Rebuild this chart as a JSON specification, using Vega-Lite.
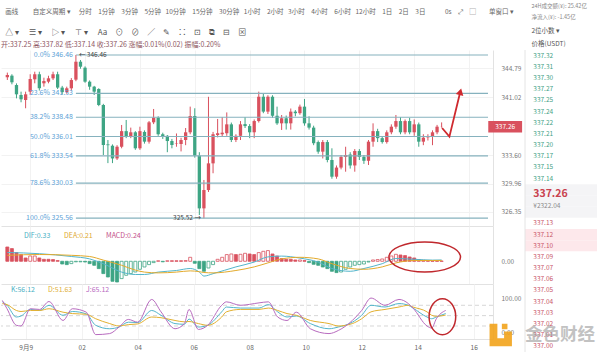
{
"$schema": "https://vega.github.io/schema/vega-lite/v6.json",
"padding": {"top": 3, "left": 0, "right": 0, "bottom": 0},
"background": "#ffffff",
"config": {
  "font": "Noto Sans CJK SC",
  "view": {"stroke": null},
  "axis": {"labelFont": "Noto Sans CJK SC", "labelFontSize": 6.5, "labelColor": "#7a7a7a", "ticks": false, "domainColor": "#e2e2e2", "gridColor": "#f2f2f2"},
  "title": {"font": "Noto Sans CJK SC", "fontWeight": "normal", "anchor": "start"},
  "legend": {"labelFont": "Noto Sans CJK SC"}
},
"datasets": {
  "candles": [
{"t":"2024-09-08T23:10","o":343.6,"h":344.2,"l":343.26,"c":343.9,"m":3.58,"k":"rs"},
{"t":"2024-09-08T23:20","o":343.81,"h":343.99,"l":342.7,"c":342.96,"m":3.18,"k":"rs"},
{"t":"2024-09-08T23:30","o":342.61,"h":342.82,"l":340.9,"c":341.42,"m":2.18,"k":"rs"},
{"t":"2024-09-08T23:40","o":341.33,"h":341.76,"l":340.4,"c":340.78,"m":1.68,"k":"rs"},
{"t":"2024-09-08T23:50","o":340.69,"h":341.76,"l":339.63,"c":341.42,"m":0.83,"k":"rs"},
{"t":"2024-09-09T00:00","o":341.76,"h":343.99,"l":341.33,"c":343.38,"m":1.33,"k":"rh"},
{"t":"2024-09-09T00:10","o":343.34,"h":344.32,"l":342.83,"c":343.99,"m":1.33,"k":"rh"},
{"t":"2024-09-09T00:20","o":343.99,"h":344.32,"l":341.9,"c":342.2,"m":0.83,"k":"rs"},
{"t":"2024-09-09T00:30","o":342.83,"h":343.55,"l":342.4,"c":343.12,"m":0.5,"k":"rs"},
{"t":"2024-09-09T00:40","o":343.04,"h":343.8,"l":342.83,"c":343.47,"m":0.5,"k":"rs"},
{"t":"2024-09-09T00:50","o":343.47,"h":344.32,"l":343.25,"c":343.99,"m":0.43,"k":"rs"},
{"t":"2024-09-09T01:00","o":343.99,"h":344.32,"l":342.1,"c":342.28,"m":0.18,"k":"rs"},
{"t":"2024-09-09T01:10","o":342.28,"h":342.5,"l":341.4,"c":341.7,"m":-0.68,"k":"gs"},
{"t":"2024-09-09T01:20","o":341.7,"h":342.4,"l":341.5,"c":342.19,"m":-0.83,"k":"gs"},
{"t":"2024-09-09T01:30","o":342.19,"h":343.5,"l":341.9,"c":343.25,"m":-0.58,"k":"gh"},
{"t":"2024-09-09T01:40","o":343.3,"h":346.46,"l":343.1,"c":345.6,"m":-0.13,"k":"gh"},
{"t":"2024-09-09T01:50","o":345.6,"h":345.82,"l":344.7,"c":344.96,"m":-0.13,"k":"gh"},
{"t":"2024-09-09T02:00","o":344.83,"h":345.0,"l":342.9,"c":343.04,"m":-0.18,"k":"gs"},
{"t":"2024-09-09T02:10","o":343.04,"h":343.2,"l":342.0,"c":342.4,"m":-0.58,"k":"gs"},
{"t":"2024-09-09T02:20","o":342.4,"h":342.5,"l":341.33,"c":341.76,"m":-1.0,"k":"gs"},
{"t":"2024-09-09T02:30","o":342.1,"h":342.2,"l":339.9,"c":340.05,"m":-1.83,"k":"gs"},
{"t":"2024-09-09T02:40","o":340.05,"h":340.2,"l":333.64,"c":334.92,"m":-3.08,"k":"gs"},
{"t":"2024-09-09T02:50","o":335.0,"h":335.56,"l":332.6,"c":334.9,"m":-3.93,"k":"gs"},
{"t":"2024-09-09T03:00","o":334.83,"h":335.0,"l":332.6,"c":333.2,"m":-5.0,"k":"gs"},
{"t":"2024-09-09T03:10","o":333.2,"h":334.9,"l":333.0,"c":334.7,"m":-5.18,"k":"gs"},
{"t":"2024-09-09T03:20","o":334.7,"h":337.49,"l":334.5,"c":336.7,"m":-4.33,"k":"gh"},
{"t":"2024-09-09T03:30","o":336.7,"h":338.13,"l":335.8,"c":335.98,"m":-3.5,"k":"gh"},
{"t":"2024-09-09T03:40","o":335.98,"h":337.15,"l":335.8,"c":336.55,"m":-3.08,"k":"gh"},
{"t":"2024-09-09T03:50","o":336.55,"h":336.7,"l":334.3,"c":334.5,"m":-2.68,"k":"gh"},
{"t":"2024-09-09T04:00","o":334.5,"h":337.27,"l":334.3,"c":336.7,"m":-2.0,"k":"gh"},
{"t":"2024-09-09T04:10","o":336.6,"h":336.8,"l":335.1,"c":335.35,"m":-1.43,"k":"gh"},
{"t":"2024-09-09T04:20","o":335.35,"h":338.0,"l":335.1,"c":337.83,"m":-0.83,"k":"gh"},
{"t":"2024-09-09T04:30","o":337.83,"h":339.54,"l":337.6,"c":338.43,"m":-0.33,"k":"gh"},
{"t":"2024-09-09T04:40","o":338.43,"h":338.6,"l":336.1,"c":336.3,"m":0.13,"k":"rh"},
{"t":"2024-09-09T04:50","o":336.3,"h":336.5,"l":335.7,"c":335.98,"m":-0.13,"k":"gs"},
{"t":"2024-09-09T05:00","o":336.1,"h":336.2,"l":334.0,"c":335.43,"m":0.13,"k":"rh"},
{"t":"2024-09-09T05:10","o":335.43,"h":335.7,"l":334.5,"c":334.92,"m":0.13,"k":"rs"},
{"t":"2024-09-09T05:20","o":335.1,"h":336.4,"l":334.7,"c":335.15,"m":0.13,"k":"rs"},
{"t":"2024-09-09T05:30","o":335.05,"h":335.85,"l":334.1,"c":335.56,"m":0.13,"k":"rs"},
{"t":"2024-09-09T05:40","o":335.56,"h":337.1,"l":334.9,"c":336.55,"m":0.18,"k":"rh"},
{"t":"2024-09-09T05:50","o":336.55,"h":339.84,"l":336.3,"c":338.64,"m":1.0,"k":"rh"},
{"t":"2024-09-09T06:00","o":338.64,"h":339.63,"l":333.3,"c":333.55,"m":-0.5,"k":"gs"},
{"t":"2024-09-09T06:10","o":333.55,"h":334.0,"l":325.95,"c":326.8,"m":-1.83,"k":"gs"},
{"t":"2024-09-09T06:20","o":326.8,"h":330.44,"l":325.52,"c":329.15,"m":-2.5,"k":"gs"},
{"t":"2024-09-09T06:30","o":329.15,"h":341.1,"l":328.9,"c":332.57,"m":-1.68,"k":"gh"},
{"t":"2024-09-09T06:40","o":332.57,"h":336.6,"l":331.3,"c":336.3,"m":-0.83,"k":"gh"},
{"t":"2024-09-09T06:50","o":336.2,"h":338.26,"l":335.9,"c":336.43,"m":0.5,"k":"rh"},
{"t":"2024-09-09T07:00","o":336.3,"h":338.5,"l":336.0,"c":336.5,"m":1.0,"k":"rh"},
{"t":"2024-09-09T07:10","o":336.43,"h":339.1,"l":336.1,"c":337.57,"m":1.68,"k":"rh"},
{"t":"2024-09-09T07:20","o":337.57,"h":337.8,"l":335.3,"c":335.56,"m":1.83,"k":"rh"},
{"t":"2024-09-09T07:30","o":335.56,"h":336.3,"l":335.3,"c":336.1,"m":1.68,"k":"rs"},
{"t":"2024-09-09T07:40","o":336.1,"h":337.99,"l":335.56,"c":337.57,"m":1.75,"k":"rh"},
{"t":"2024-09-09T07:50","o":337.6,"h":338.5,"l":337.1,"c":337.35,"m":2.0,"k":"rh"},
{"t":"2024-09-09T08:00","o":337.35,"h":337.6,"l":335.8,"c":336.55,"m":1.83,"k":"rs"},
{"t":"2024-09-09T08:10","o":336.55,"h":338.2,"l":335.8,"c":337.99,"m":1.68,"k":"rs"},
{"t":"2024-09-09T08:20","o":337.99,"h":341.76,"l":337.8,"c":341.11,"m":2.18,"k":"rh"},
{"t":"2024-09-09T08:30","o":341.11,"h":341.55,"l":339.0,"c":339.2,"m":2.5,"k":"rh"},
{"t":"2024-09-09T08:40","o":339.2,"h":341.3,"l":338.9,"c":341.11,"m":2.68,"k":"rh"},
{"t":"2024-09-09T08:50","o":341.11,"h":341.3,"l":338.4,"c":338.67,"m":1.83,"k":"rs"},
{"t":"2024-09-09T09:00","o":338.67,"h":339.84,"l":337.5,"c":337.7,"m":1.33,"k":"rs"},
{"t":"2024-09-09T09:10","o":337.7,"h":338.77,"l":336.85,"c":338.35,"m":0.68,"k":"rs"},
{"t":"2024-09-09T09:20","o":338.35,"h":338.7,"l":336.9,"c":337.7,"m":0.5,"k":"rs"},
{"t":"2024-09-09T09:30","o":337.7,"h":339.6,"l":336.9,"c":339.2,"m":0.5,"k":"rs"},
{"t":"2024-09-09T09:40","o":339.2,"h":339.4,"l":338.6,"c":339.0,"m":0.33,"k":"rs"},
{"t":"2024-09-09T09:50","o":339.0,"h":340.1,"l":338.8,"c":339.84,"m":0.33,"k":"rh"},
{"t":"2024-09-09T10:00","o":339.84,"h":340.82,"l":337.4,"c":337.7,"m":0.18,"k":"rs"},
{"t":"2024-09-09T10:10","o":337.7,"h":338.6,"l":336.9,"c":337.15,"m":-0.33,"k":"gs"},
{"t":"2024-09-09T10:20","o":337.15,"h":337.4,"l":334.9,"c":335.15,"m":-0.75,"k":"gs"},
{"t":"2024-09-09T10:30","o":335.3,"h":335.5,"l":333.8,"c":334.07,"m":-1.0,"k":"gs"},
{"t":"2024-09-09T10:40","o":334.07,"h":335.56,"l":333.2,"c":335.3,"m":-1.43,"k":"gs"},
{"t":"2024-09-09T10:50","o":335.3,"h":335.56,"l":332.7,"c":333.0,"m":-1.83,"k":"gs"},
{"t":"2024-09-09T11:00","o":333.0,"h":334.5,"l":330.6,"c":330.86,"m":-2.5,"k":"gs"},
{"t":"2024-09-09T11:10","o":330.86,"h":332.3,"l":330.6,"c":332.03,"m":-2.83,"k":"gs"},
{"t":"2024-09-09T11:20","o":332.03,"h":333.64,"l":331.8,"c":333.4,"m":-2.68,"k":"gh"},
{"t":"2024-09-09T11:30","o":333.4,"h":334.7,"l":331.5,"c":333.64,"m":-2.0,"k":"gh"},
{"t":"2024-09-09T11:40","o":333.7,"h":334.0,"l":331.9,"c":332.3,"m":-1.43,"k":"gh"},
{"t":"2024-09-09T11:50","o":332.3,"h":334.4,"l":331.5,"c":334.15,"m":-1.0,"k":"gh"},
{"t":"2024-09-09T12:00","o":334.15,"h":334.4,"l":333.0,"c":333.4,"m":-0.83,"k":"gh"},
{"t":"2024-09-09T12:10","o":333.4,"h":333.64,"l":332.5,"c":332.9,"m":-0.68,"k":"gh"},
{"t":"2024-09-09T12:20","o":332.9,"h":335.56,"l":332.36,"c":335.35,"m":-0.18,"k":"gh"},
{"t":"2024-09-09T12:30","o":335.35,"h":337.7,"l":334.7,"c":336.7,"m":0.33,"k":"rh"},
{"t":"2024-09-09T12:40","o":336.7,"h":337.0,"l":335.3,"c":335.8,"m":0.43,"k":"rh"},
{"t":"2024-09-09T12:50","o":335.8,"h":336.0,"l":335.1,"c":335.3,"m":0.58,"k":"rh"},
{"t":"2024-09-09T13:00","o":335.3,"h":336.8,"l":335.1,"c":336.55,"m":1.0,"k":"rh"},
{"t":"2024-09-09T13:10","o":336.55,"h":337.57,"l":336.3,"c":337.27,"m":1.33,"k":"rh"},
{"t":"2024-09-09T13:20","o":337.27,"h":338.77,"l":337.0,"c":337.99,"m":1.75,"k":"rh"},
{"t":"2024-09-09T13:30","o":337.99,"h":338.5,"l":336.3,"c":336.55,"m":1.58,"k":"rs"},
{"t":"2024-09-09T13:40","o":336.55,"h":338.2,"l":336.3,"c":337.99,"m":1.43,"k":"rs"},
{"t":"2024-09-09T13:50","o":337.99,"h":338.4,"l":336.3,"c":336.55,"m":1.08,"k":"rs"},
{"t":"2024-09-09T14:00","o":336.55,"h":338.2,"l":336.1,"c":337.57,"m":0.83,"k":"rs"},
{"t":"2024-09-09T14:10","o":337.57,"h":337.8,"l":334.7,"c":335.35,"m":0.43,"k":"rs"},
{"t":"2024-09-09T14:20","o":335.35,"h":336.3,"l":334.9,"c":335.86,"m":0.25,"k":"rs"},
{"t":"2024-09-09T14:30","o":335.9,"h":336.3,"l":335.5,"c":336.0,"m":0.13,"k":"rs"},
{"t":"2024-09-09T14:40","o":335.98,"h":336.8,"l":334.9,"c":336.55,"m":0.08,"k":"rs"},
{"t":"2024-09-09T14:50","o":336.55,"h":337.5,"l":336.3,"c":337.27,"m":0.08,"k":"rs"},
{"t":"2024-09-09T15:00","o":337.25,"h":337.82,"l":337.14,"c":337.26,"m":0.06,"k":"rs"}
  ],
  "macdl": [
{"t":"2024-09-08T23:10","DIF":2.2,"DEA":1.5},
{"t":"2024-09-09T00:20","DIF":1.9,"DEA":1.7},
{"t":"2024-09-09T01:30","DIF":1.2,"DEA":1.5},
{"t":"2024-09-09T02:10","DIF":0.6,"DEA":1.2},
{"t":"2024-09-09T02:40","DIF":-0.6,"DEA":0.3},
{"t":"2024-09-09T03:20","DIF":-2.7,"DEA":-1.0},
{"t":"2024-09-09T03:50","DIF":-3.3,"DEA":-2.2},
{"t":"2024-09-09T04:10","DIF":-3.3,"DEA":-2.7},
{"t":"2024-09-09T04:40","DIF":-2.7,"DEA":-2.9},
{"t":"2024-09-09T05:20","DIF":-2.3,"DEA":-2.7},
{"t":"2024-09-09T05:50","DIF":-1.8,"DEA":-2.4},
{"t":"2024-09-09T06:10","DIF":-2.7,"DEA":-2.6},
{"t":"2024-09-09T06:20","DIF":-3.7,"DEA":-2.8},
{"t":"2024-09-09T06:40","DIF":-3.1,"DEA":-2.9},
{"t":"2024-09-09T07:30","DIF":-1.4,"DEA":-2.3},
{"t":"2024-09-09T08:10","DIF":-0.2,"DEA":-1.4},
{"t":"2024-09-09T08:40","DIF":1.1,"DEA":-0.4},
{"t":"2024-09-09T09:10","DIF":1.3,"DEA":0.6},
{"t":"2024-09-09T09:50","DIF":0.8,"DEA":1.0},
{"t":"2024-09-09T10:30","DIF":-0.2,"DEA":0.6},
{"t":"2024-09-09T11:00","DIF":-1.8,"DEA":-0.6},
{"t":"2024-09-09T11:40","DIF":-2.5,"DEA":-1.8},
{"t":"2024-09-09T12:10","DIF":-1.8,"DEA":-2.0},
{"t":"2024-09-09T12:50","DIF":-0.6,"DEA":-1.4},
{"t":"2024-09-09T13:20","DIF":0.7,"DEA":-0.4},
{"t":"2024-09-09T14:00","DIF":0.5,"DEA":0.2},
{"t":"2024-09-09T14:40","DIF":0.3,"DEA":0.2},
{"t":"2024-09-09T15:00","DIF":0.33,"DEA":0.21}
  ],
  "kdj": [
{"t":"2024-09-08T23:10","K":90,"D":85,"J":94},
{"t":"2024-09-08T23:20","K":80,"D":82,"J":70},
{"t":"2024-09-08T23:40","K":46,"D":65,"J":22},
{"t":"2024-09-08T23:50","K":49,"D":62,"J":20},
{"t":"2024-09-09T00:10","K":68,"D":65,"J":70},
{"t":"2024-09-09T00:30","K":65,"D":65,"J":68},
{"t":"2024-09-09T00:50","K":80,"D":70,"J":91},
{"t":"2024-09-09T01:20","K":51,"D":60,"J":36},
{"t":"2024-09-09T01:40","K":62,"D":56,"J":70},
{"t":"2024-09-09T02:10","K":55,"D":54,"J":60},
{"t":"2024-09-09T02:30","K":22,"D":41,"J":-5},
{"t":"2024-09-09T03:00","K":12,"D":27,"J":-2},
{"t":"2024-09-09T03:20","K":17,"D":20,"J":17},
{"t":"2024-09-09T03:40","K":31,"D":24,"J":39},
{"t":"2024-09-09T04:00","K":30,"D":26,"J":31},
{"t":"2024-09-09T04:30","K":65,"D":46,"J":97},
{"t":"2024-09-09T04:50","K":51,"D":44,"J":61},
{"t":"2024-09-09T05:20","K":27,"D":36,"J":12},
{"t":"2024-09-09T05:40","K":25,"D":32,"J":27},
{"t":"2024-09-09T05:50","K":40,"D":33,"J":68},
{"t":"2024-09-09T06:10","K":17,"D":27,"J":10},
{"t":"2024-09-09T06:30","K":22,"D":22,"J":22},
{"t":"2024-09-09T07:00","K":61,"D":46,"J":80},
{"t":"2024-09-09T07:10","K":75,"D":61,"J":90},
{"t":"2024-09-09T07:40","K":72,"D":68,"J":80},
{"t":"2024-09-09T08:20","K":72,"D":68,"J":87},
{"t":"2024-09-09T08:40","K":82,"D":72,"J":90},
{"t":"2024-09-09T09:00","K":61,"D":65,"J":46},
{"t":"2024-09-09T09:20","K":46,"D":56,"J":36},
{"t":"2024-09-09T09:40","K":49,"D":51,"J":60},
{"t":"2024-09-09T10:10","K":27,"D":36,"J":12},
{"t":"2024-09-09T10:50","K":12,"D":27,"J":-2},
{"t":"2024-09-09T11:10","K":17,"D":20,"J":7},
{"t":"2024-09-09T11:40","K":31,"D":27,"J":36},
{"t":"2024-09-09T12:00","K":51,"D":41,"J":65},
{"t":"2024-09-09T12:20","K":80,"D":61,"J":101},
{"t":"2024-09-09T12:50","K":75,"D":68,"J":80},
{"t":"2024-09-09T13:20","K":85,"D":75,"J":97},
{"t":"2024-09-09T13:40","K":80,"D":80,"J":85},
{"t":"2024-09-09T13:50","K":72,"D":75,"J":72},
{"t":"2024-09-09T14:20","K":46,"D":61,"J":20},
{"t":"2024-09-09T14:30","K":41,"D":51,"J":14},
{"t":"2024-09-09T14:40","K":46,"D":48,"J":41},
{"t":"2024-09-09T15:00","K":56.12,"D":51.63,"J":65.12}
  ],
  "side": [
{"r":0,"s":"337.32","g":"a"},
{"r":1,"s":"337.31","g":"a"},
{"r":2,"s":"337.30","g":"a"},
{"r":3,"s":"337.27","g":"a"},
{"r":4,"s":"337.25","g":"a"},
{"r":5,"s":"337.24","g":"a"},
{"r":6,"s":"337.22","g":"a"},
{"r":7,"s":"337.21","g":"a"},
{"r":8,"s":"337.20","g":"a"},
{"r":9,"s":"337.17","g":"a"},
{"r":10,"s":"337.15","g":"a"},
{"r":11,"s":"337.14","g":"a"},
{"r":12,"s":"337.26","g":"p"},
{"r":13,"s":"¥2322.04","g":"y"},
{"r":15,"s":"337.13","g":"b"},
{"r":16,"s":"337.12","g":"b"},
{"r":17,"s":"337.10","g":"b"},
{"r":18,"s":"337.09","g":"b"},
{"r":19,"s":"337.07","g":"b"},
{"r":20,"s":"337.06","g":"b"},
{"r":21,"s":"337.05","g":"b"},
{"r":22,"s":"337.04","g":"b"},
{"r":23,"s":"337.03","g":"b"},
{"r":24,"s":"337.02","g":"b"},
{"r":25,"s":"337.01","g":"b"},
{"r":26,"s":"337.00","g":"b"}
  ]
},
"spacing": 1,
"hconcat": [
{
  "title": {"text": "画线　　 自定义周期 ▾　 分时　1分钟　3分钟　5分钟\u2002\u200910分钟　15分钟　30分钟\u2002\u20091小时　2小时\u2002\u20093小时　4小时　6小时\u2002\u200912小时　1日　2日　3日　　　0s　⤢　▢　　单窗口 ▾", "subtitle": "△ ▾　 ☰ ▾　 ▷ ▾　 ⊤ ▾　 Aa　⊙　⊘　∕　✎　∷　⊡　⧉　⊟　⊠", "fontSize": 6.5, "color": "#666666", "subtitleFontSize": 8, "subtitleColor": "#555555", "subtitlePadding": 13.5, "offset": 4, "dx": 5},
  "spacing": 0,
  "resolve": {"scale": {"y": "independent", "color": "independent"}, "legend": {"color": "independent"}},
  "vconcat": [
  {
    "width": 492, "height": 176,
    "title": {"text": "开:337.25 高:337.82 低:337.14 收:337.26 涨幅:0.01%(0.02) 振幅:0.20%", "fontSize": 7, "color": "#8f5863", "offset": 2.5},
    "resolve": {"axis": {"x": "independent", "y": "independent"}},
    "layer": [
      {
        "data": {"name": "candles"},
        "mark": {"type": "rule", "strokeWidth": 1},
        "encoding": {
          "x": {"field": "t", "type": "temporal",
                "scale": {"domain": [{"year":2024,"month":9,"date":8,"hours":23,"minutes":7,"seconds":5},{"year":2024,"month":9,"date":9,"hours":16,"minutes":41,"seconds":25}]},
                "axis": {"values": [{"year":2024,"month":9,"date":9,"hours":0},{"year":2024,"month":9,"date":9,"hours":2},{"year":2024,"month":9,"date":9,"hours":4},{"year":2024,"month":9,"date":9,"hours":6},{"year":2024,"month":9,"date":9,"hours":8},{"year":2024,"month":9,"date":9,"hours":10},{"year":2024,"month":9,"date":9,"hours":12},{"year":2024,"month":9,"date":9,"hours":14},{"year":2024,"month":9,"date":9,"hours":16}], "labels": false, "grid": true, "domain": true, "title": null}},
          "y": {"field": "l", "type": "quantitative",
                "scale": {"domain": [324.54, 347.1], "zero": false, "nice": false},
                "axis": {"orient": "right", "values": [344.79, 341.02, 333.6, 329.96, 326.35], "format": ".2f", "grid": true, "domain": true, "labelPadding": 8, "title": null}},
          "y2": {"field": "h"},
          "color": {"condition": {"test": "datum.c >= datum.o", "value": "#d9515e"}, "value": "#3ea584"}
        }
      },
      {
        "data": {"name": "candles"},
        "mark": {"type": "bar", "size": 3.3},
        "encoding": {
          "x": {"field": "t", "type": "temporal", "axis": null},
          "y": {"field": "o", "type": "quantitative", "axis": null},
          "y2": {"field": "c"},
          "color": {"condition": {"test": "datum.c >= datum.o", "value": "#d9515e"}, "value": "#3ea584"}
        }
      },
      {
        "data": {"values": [{"p":346.46,"lab":"0.0% 346.46"},{"p":341.53,"lab":"23.6% 341.53"},{"p":338.48,"lab":"38.2% 338.48"},{"p":336.01,"lab":"50.0% 336.01"},{"p":333.54,"lab":"61.8% 333.54"},{"p":330.03,"lab":"78.6% 330.03"},{"p":325.56,"lab":"100.0% 325.56"}]},
        "mark": {"type": "rule", "color": "#86b2be", "strokeWidth": 1.2},
        "encoding": {
          "x": {"datum": {"year":2024,"month":9,"date":9,"hours":1,"minutes":40}, "type": "temporal", "axis": null},
          "x2": {"datum": {"year":2024,"month":9,"date":9,"hours":16,"minutes":41,"seconds":25}},
          "y": {"field": "p", "type": "quantitative", "axis": null}
        }
      },
      {
        "data": {"values": [{"p":346.46,"lab":"0.0% 346.46"},{"p":341.53,"lab":"23.6% 341.53"},{"p":338.48,"lab":"38.2% 338.48"},{"p":336.01,"lab":"50.0% 336.01"},{"p":333.54,"lab":"61.8% 333.54"},{"p":330.03,"lab":"78.6% 330.03"},{"p":325.56,"lab":"100.0% 325.56"}]},
        "mark": {"type": "text", "align": "right", "dx": -3, "fontSize": 7, "color": "#5d9fd6"},
        "encoding": {
          "x": {"datum": {"year":2024,"month":9,"date":9,"hours":1,"minutes":40}, "type": "temporal", "axis": null},
          "y": {"field": "p", "type": "quantitative", "axis": null},
          "text": {"field": "lab"}
        }
      },
      {
        "data": {"values": [{"t":"2024-09-09T01:40","p":346.46,"s":"← 346.46"}]},
        "mark": {"type": "text", "align": "left", "dx": 3, "fontSize": 6.5, "color": "#444444"},
        "encoding": {
          "x": {"field": "t", "type": "temporal", "axis": null},
          "y": {"field": "p", "type": "quantitative", "axis": null},
          "text": {"field": "s"}
        }
      },
      {
        "data": {"values": [{"t":"2024-09-09T06:20","p":325.52,"s":"325.52 →"}]},
        "mark": {"type": "text", "align": "right", "dx": -3, "fontSize": 6.5, "color": "#444444"},
        "encoding": {
          "x": {"field": "t", "type": "temporal", "axis": null},
          "y": {"field": "p", "type": "quantitative", "axis": null},
          "text": {"field": "s"}
        }
      },
      {
        "data": {"values": [{"t":"2024-09-09T15:01","p":337.1,"o":1},{"t":"2024-09-09T15:17","p":336.0,"o":2},{"t":"2024-09-09T15:40","p":341.55,"o":3}]},
        "mark": {"type": "line", "color": "#cf2a2f", "strokeWidth": 1.8},
        "encoding": {
          "x": {"field": "t", "type": "temporal", "axis": null},
          "y": {"field": "p", "type": "quantitative", "axis": null},
          "order": {"field": "o"}
        }
      },
      {
        "data": {"values": [{"t":"2024-09-09T15:41","p":341.75}]},
        "mark": {"type": "point", "shape": "triangle-up", "angle": 14, "size": 60, "filled": true, "color": "#cf2a2f", "opacity": 1},
        "encoding": {
          "x": {"field": "t", "type": "temporal", "axis": null},
          "y": {"field": "p", "type": "quantitative", "axis": null}
        }
      },
      {
        "data": {"values": [{"a":1}]},
        "mark": {"type": "rect", "color": "#d9515e", "clip": false},
        "encoding": {
          "x": {"datum": {"year":2024,"month":9,"date":9,"hours":16,"minutes":42}, "type": "temporal", "axis": null},
          "x2": {"datum": {"year":2024,"month":9,"date":9,"hours":17,"minutes":56}},
          "y": {"datum": 338.01, "type": "quantitative", "axis": null},
          "y2": {"datum": 336.51}
        }
      },
      {
        "data": {"values": [{"a":1}]},
        "mark": {"type": "text", "color": "#ffffff", "fontSize": 6.5, "clip": false},
        "encoding": {
          "x": {"datum": {"year":2024,"month":9,"date":9,"hours":17,"minutes":19}, "type": "temporal", "axis": null},
          "y": {"datum": 337.26, "type": "quantitative", "axis": null},
          "text": {"value": "337.26"}
        }
      }
    ]
  },
  {
    "width": 492, "height": 58,
    "resolve": {"axis": {"x": "independent", "y": "independent"}},
    "layer": [
      {
        "data": {"name": "candles"},
        "mark": {"type": "bar", "size": 3, "strokeWidth": 0.8},
        "encoding": {
          "x": {"field": "t", "type": "temporal",
                "scale": {"domain": [{"year":2024,"month":9,"date":8,"hours":23,"minutes":7,"seconds":5},{"year":2024,"month":9,"date":9,"hours":16,"minutes":41,"seconds":25}]},
                "axis": {"values": [{"year":2024,"month":9,"date":9,"hours":0},{"year":2024,"month":9,"date":9,"hours":2},{"year":2024,"month":9,"date":9,"hours":4},{"year":2024,"month":9,"date":9,"hours":6},{"year":2024,"month":9,"date":9,"hours":8},{"year":2024,"month":9,"date":9,"hours":10},{"year":2024,"month":9,"date":9,"hours":12},{"year":2024,"month":9,"date":9,"hours":14},{"year":2024,"month":9,"date":9,"hours":16}], "labels": false, "grid": true, "domain": true, "title": null}},
          "y": {"field": "m", "type": "quantitative",
                "scale": {"domain": [-5.68, 8.83], "zero": false, "nice": false},
                "axis": {"orient": "right", "values": [0], "format": ".2f", "grid": false, "domain": true, "labelPadding": 8, "title": null}},
          "y2": {"datum": 0},
          "fill": {"condition": [{"test": "datum.k=='rs'", "value": "#d9515e"}, {"test": "datum.k=='gs'", "value": "#3ea584"}], "value": "#ffffff"},
          "stroke": {"condition": {"test": "datum.k=='rs'||datum.k=='rh'", "value": "#d9515e"}, "value": "#3ea584"}
        }
      },
      {
        "data": {"name": "macdl"},
        "transform": [{"fold": ["DIF", "DEA"], "as": ["s", "v"]}],
        "mark": {"type": "line", "strokeWidth": 1, "interpolate": "monotone"},
        "encoding": {
          "x": {"field": "t", "type": "temporal", "axis": null},
          "y": {"field": "v", "type": "quantitative", "axis": null},
          "color": {"field": "s", "type": "nominal",
                    "scale": {"domain": ["DIF", "DEA", "MACD"], "range": ["#53b5cb", "#e3aa2c", "#c7548c"]},
                    "legend": {"orient": "none", "legendX": 16, "legendY": 6, "direction": "horizontal", "title": null, "symbolSize": 0, "symbolStrokeWidth": 0, "symbolOpacity": 0, "labelOffset": 0, "columnPadding": 6, "labelFontSize": 7, "padding": 0,
                               "labelExpr": "datum.value=='DIF'?'DIF:0.33':datum.value=='DEA'?'DEA:0.21':'MACD:0.24'",
                               "labelColor": {"expr": "datum.value=='DIF'?'#4ab0c4':datum.value=='DEA'?'#e0a830':'#c4508a'"}}}
        }
      },
      {
        "data": {"values": [{"t":"2024-09-09T14:23","v":1.07}]},
        "mark": {"type": "point", "shape": "M-1,0C-1,-0.232,-0.552,-0.42,0,-0.42C0.552,-0.42,1,-0.232,1,0C1,0.232,0.552,0.42,0,0.42C-0.552,0.42,-1,0.232,-1,0Z", "size": 5127, "filled": false, "stroke": "#c0282d", "strokeWidth": 1.5, "opacity": 1},
        "encoding": {
          "x": {"field": "t", "type": "temporal", "axis": null},
          "y": {"field": "v", "type": "quantitative", "axis": null}
        }
      }
    ]
  },
  {
    "width": 492, "height": 55,
    "resolve": {"axis": {"x": "independent", "y": "independent"}},
    "layer": [
      {
        "data": {"values": [{"lv":80},{"lv":50},{"lv":20}]},
        "mark": {"type": "rule", "color": "#d6d6d6", "strokeDash": [4, 3], "strokeWidth": 1},
        "encoding": {
          "y": {"field": "lv", "type": "quantitative",
                "scale": {"domain": [-17.7, 141.7], "zero": false, "nice": false},
                "axis": {"orient": "right", "values": [100, 0], "format": ".2f", "grid": false, "domain": true, "labelPadding": 8, "title": null}}
        }
      },
      {
        "data": {"name": "kdj"},
        "transform": [{"fold": ["K", "D", "J"], "as": ["s", "v"]}],
        "mark": {"type": "line", "strokeWidth": 1, "interpolate": "monotone"},
        "encoding": {
          "x": {"field": "t", "type": "temporal",
                "scale": {"domain": [{"year":2024,"month":9,"date":8,"hours":23,"minutes":7,"seconds":5},{"year":2024,"month":9,"date":9,"hours":16,"minutes":41,"seconds":25}]},
                "axis": {"values": [{"year":2024,"month":9,"date":9,"hours":0},{"year":2024,"month":9,"date":9,"hours":2},{"year":2024,"month":9,"date":9,"hours":4},{"year":2024,"month":9,"date":9,"hours":6},{"year":2024,"month":9,"date":9,"hours":8},{"year":2024,"month":9,"date":9,"hours":10},{"year":2024,"month":9,"date":9,"hours":12},{"year":2024,"month":9,"date":9,"hours":14},{"year":2024,"month":9,"date":9,"hours":16}],
                         "labelExpr": "hours(datum.value)==0?'9月9':timeFormat(datum.value,'%H')", "grid": true, "domain": true, "labelPadding": 5, "labelColor": "#666666", "title": null}},
          "y": {"field": "v", "type": "quantitative", "axis": null},
          "color": {"field": "s", "type": "nominal",
                    "scale": {"domain": ["K", "D", "J"], "range": ["#53b5cb", "#e3b030", "#b86bbf"]},
                    "legend": {"orient": "none", "legendX": 3, "legendY": 2, "direction": "horizontal", "title": null, "symbolSize": 0, "symbolStrokeWidth": 0, "symbolOpacity": 0, "labelOffset": 0, "columnPadding": 6, "labelFontSize": 7, "padding": 0,
                               "labelExpr": "datum.value=='K'?'K:56.12':datum.value=='D'?'D:51.63':'J:65.12'",
                               "labelColor": {"expr": "datum.value=='K'?'#4ab0c4':datum.value=='D'?'#e0b03a':'#b86bbf'"}}}
        }
      },
      {
        "data": {"values": [{"t":"2024-09-09T14:53","v":47}]},
        "mark": {"type": "point", "shape": "M-0.74,0C-0.74,-0.552,-0.409,-1,0,-1C0.409,-1,0.74,-0.552,0.74,0C0.74,0.552,0.409,1,0,1C-0.409,1,-0.74,0.552,-0.74,0Z", "size": 1296, "filled": false, "stroke": "#c0282d", "strokeWidth": 1.5, "opacity": 1},
        "encoding": {
          "x": {"field": "t", "type": "temporal", "axis": null},
          "y": {"field": "v", "type": "quantitative", "axis": null}
        }
      },
      {
        "data": {"values": [{"t":"2024-09-09T16:58","v":-6}]},
        "mark": {"type": "point", "shape": "M-1,-1H-0.3V0.3H0.3V-0.3H1V1H-1Z M0.1,-1H0.6V-0.5H0.1Z", "size": 500, "filled": true, "color": "#f2a31b", "opacity": 0.9, "clip": false},
        "encoding": {
          "x": {"field": "t", "type": "temporal", "axis": null},
          "y": {"field": "v", "type": "quantitative", "axis": null}
        }
      }
    ]
  }
  ]
},
{
  "width": 72, "height": 302,
  "title": {"text": ["24H成交额(¥): 25.42亿", "净流入(¥): -1.45亿"], "subtitle": ["2位小数 ▾", "价格(USDT)"], "fontSize": 5.5, "lineHeight": 11, "color": "#888888", "subtitleFontSize": 6.5, "subtitleLineHeight": 13, "subtitleColor": "#555555", "subtitlePadding": 7.5, "dx": 7, "offset": 2.5},
  "layer": [
    {
      "data": {"values": [{"r":12,"g":"gray"},{"r":13,"g":"gray"},{"r":14,"g":"gray"},{"r":16,"g":"pink"},{"r":17,"g":"pink"}]},
      "mark": {"type": "rect"},
      "encoding": {
        "y": {"field": "r", "type": "ordinal", "scale": {"domain": [0,1,2,3,4,5,6,7,8,9,10,11,12,13,14,15,16,17,18,19,20,21,22,23,24,25,26], "paddingInner": 0, "paddingOuter": 0}, "axis": null},
        "x": {"datum": -0.13, "type": "quantitative", "scale": {"domain": [-0.13, 1], "zero": false, "nice": false}, "axis": null},
        "x2": {"datum": 1},
        "color": {"condition": {"test": "datum.g=='pink'", "value": "#fde8eb"}, "value": "#f4f4f6"}
      }
    },
    {
      "data": {"values": [{"a":1}]},
      "mark": {"type": "rule", "color": "#e4e4e4"},
      "encoding": {"x": {"datum": -0.13, "type": "quantitative"}}
    },
    {
      "data": {"name": "side"},
      "transform": [{"filter": "datum.g == 'a' || datum.g == 'b'"}],
      "mark": {"type": "text", "align": "left", "fontSize": 6.5},
      "encoding": {
        "y": {"field": "r", "type": "ordinal"},
        "x": {"datum": 0, "type": "quantitative"},
        "text": {"field": "s"},
        "color": {"condition": {"test": "datum.g=='a'", "value": "#3f9f86"}, "value": "#c9566a"}
      }
    },
    {
      "data": {"name": "side"},
      "transform": [{"filter": "datum.g == 'y'"}],
      "mark": {"type": "text", "align": "left", "fontSize": 6.5, "color": "#8a8a8a", "dy": 5},
      "encoding": {
        "y": {"field": "r", "type": "ordinal"},
        "x": {"datum": 0, "type": "quantitative"},
        "text": {"field": "s"}
      }
    },
    {
      "data": {"name": "side"},
      "transform": [{"filter": "datum.g == 'p'"}],
      "mark": {"type": "text", "align": "left", "fontSize": 10.5, "fontWeight": "bold", "color": "#c9424f", "dy": 4},
      "encoding": {
        "y": {"field": "r", "type": "ordinal"},
        "x": {"datum": 0, "type": "quantitative"},
        "text": {"field": "s"}
      }
    },
    {
      "data": {"values": [{"r":25,"s":"金色财经"}]},
      "mark": {"type": "text", "align": "left", "fontSize": 17.5, "fontWeight": "bold", "color": "#9a9a9a", "opacity": 0.6},
      "encoding": {
        "y": {"field": "r", "type": "ordinal"},
        "x": {"datum": -0.13, "type": "quantitative"},
        "text": {"field": "s"}
      }
    }
  ]
}
]
}
